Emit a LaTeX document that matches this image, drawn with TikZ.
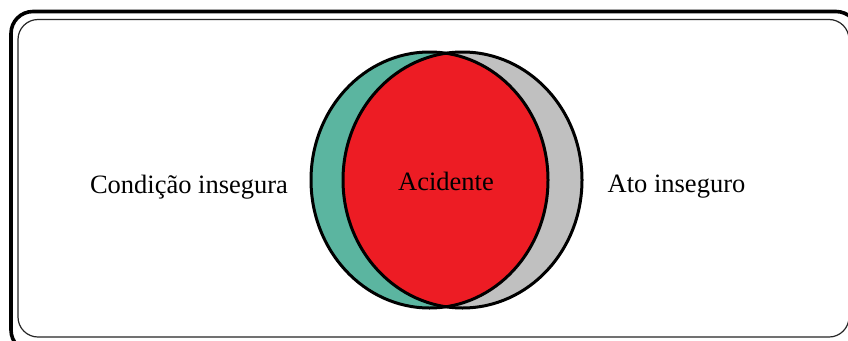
\documentclass[tikz,border=0pt]{standalone}
\usepackage{fontspec}
\setmainfont{Liberation Serif}
\definecolor{tealc}{RGB}{91,181,160}
\definecolor{grayc}{RGB}{192,192,192}
\definecolor{redc}{RGB}{237,28,36}
\tikzset{
  lbl/.style={font=\fontsize{26.5}{30}\selectfont, inner sep=0pt, anchor=base},
  ring/.style={draw=black, line width=3pt},
}
\begin{document}
\begin{tikzpicture}[x=1pt,y=-1pt]
\clip (0,0) rectangle (848,340);
\fill[white] (0,0) rectangle (848,340);
% frames
\draw[line width=3.6pt, rounded corners=22pt] (11,11.5) rectangle (858,352);
\draw[line width=1.2pt, draw=black!85, rounded corners=20pt] (18,19.5) rectangle (849,337);
% circles
\fill[tealc] (429.5,180) ellipse [x radius=118.5pt, y radius=128pt];
\fill[grayc] (462.5,180) ellipse [x radius=119.5pt, y radius=128pt];
\begin{scope}
  \clip (429.5,180) ellipse [x radius=118.5pt, y radius=128pt];
  \fill[redc] (462.5,180) ellipse [x radius=119.5pt, y radius=128pt];
\end{scope}
\draw[ring] (429.5,180) ellipse [x radius=118.5pt, y radius=128pt];
\draw[ring] (462.5,180) ellipse [x radius=119.5pt, y radius=128pt];
% labels
\node[lbl] (cond) at (189,193) {Condição insegura};
\node[lbl] (ato) at (676.5,192.5) {Ato inseguro};
\node[lbl] (acid) at (446,190) {Acidente};
\end{tikzpicture}
\end{document}
